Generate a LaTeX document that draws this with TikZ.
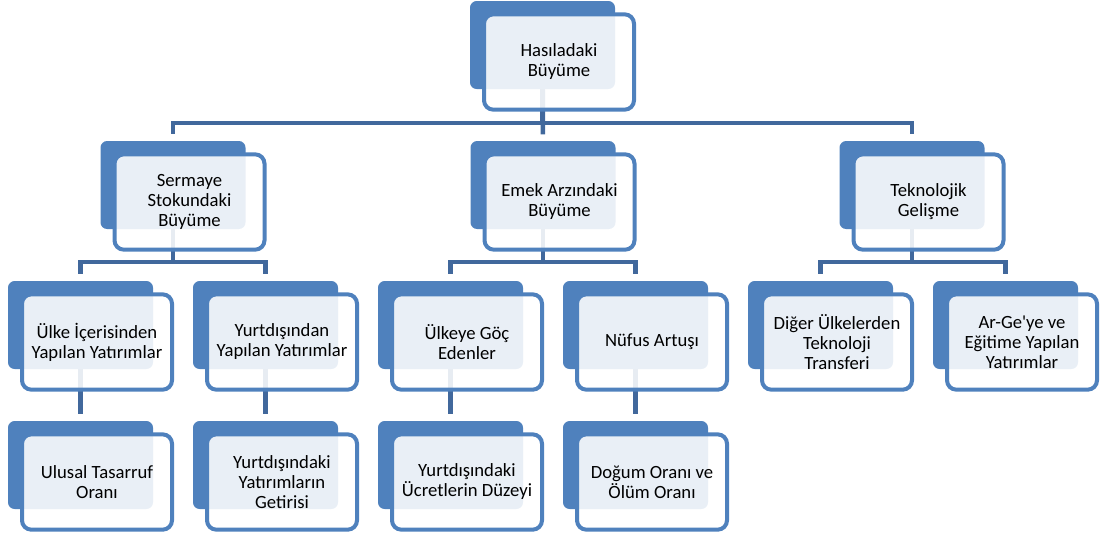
\documentclass[tikz,border=0pt]{standalone}
\usepackage{fontspec}
\setmainfont{Carlito}
\usepackage{tikz}
\usetikzlibrary{positioning, backgrounds}
\definecolor{boxblue}{HTML}{4F81BD}
\definecolor{linkblue}{HTML}{41689C}

\tikzset{
  backbox/.style={fill=boxblue, rounded corners=5pt, minimum width=108.75pt,
    minimum height=66pt, inner sep=0pt, outer sep=0pt},
  frontbox/.style={draw=boxblue, line width=3pt, fill=white, fill opacity=0.88,
    text opacity=1, rounded corners=7pt, minimum width=112.5pt, minimum height=71.5pt,
    inner sep=0pt, align=center, font=\fontsize{14pt}{15pt}\selectfont},
  link/.style={draw=linkblue, line width=3.4pt},
}

\begin{document}
\begin{tikzpicture}[x=0.75pt, y=-0.75pt, node distance=30pt] % 1px = 0.75pt, y downwards
    \useasboundingbox (0,0) rectangle (1100,537);

    % 1. Back plates (filled), placed row by row
    \node[backbox] (has-b) at (542.5,45) {};
    \node[backbox] (sermaye-b) at (173,185) {};
    \node[backbox] (emek-b) at (543,185) {};
    \node[backbox] (tekno-b) at (912,185) {};
    \node[backbox] (ulke-b) at (80.5,325) {};
    \node[backbox, right=of ulke-b] (yurt-b) {};
    \node[backbox, right=of yurt-b] (goc-b) {};
    \node[backbox, right=of goc-b] (nufus-b) {};
    \node[backbox, right=of nufus-b] (transfer-b) {};
    \node[backbox, right=of transfer-b] (arge-b) {};
    \node[backbox, below=39pt of ulke-b] (tasarruf-b) {};
    \node[backbox, below=39pt of yurt-b] (getiri-b) {};
    \node[backbox, below=39pt of goc-b] (ucret-b) {};
    \node[backbox, below=39pt of nufus-b] (dogum-b) {};

    % 2. Front boxes with the texts, shifted down-right over the plates
    \node[frontbox] (has) at ([shift={(16.5,17)}]has-b) {Hasıladaki\\Büyüme};
    \node[frontbox] (sermaye) at ([shift={(16.5,17)}]sermaye-b) {Sermaye\\Stokundaki\\Büyüme};
    \node[frontbox] (emek) at ([shift={(16.5,17)}]emek-b) {Emek Arzındaki\\Büyüme};
    \node[frontbox] (tekno) at ([shift={(16.5,17)}]tekno-b) {Teknolojik\\Gelişme};
    \node[frontbox] (ulke) at ([shift={(16.5,17)}]ulke-b) {Ülke İçerisinden\\Yapılan Yatırımlar};
    \node[frontbox] (yurt) at ([shift={(16.5,17)}]yurt-b) {Yurtdışından\\Yapılan Yatırımlar};
    \node[frontbox] (goc) at ([shift={(16.5,17)}]goc-b) {Ülkeye Göç\\Edenler};
    \node[frontbox] (nufus) at ([shift={(16.5,17)}]nufus-b) {Nüfus Artuşı};
    \node[frontbox] (transfer) at ([shift={(16.5,17)}]transfer-b) {Diğer Ülkelerden\\Teknoloji\\Transferi};
    \node[frontbox] (arge) at ([shift={(16.5,17)}]arge-b) {Ar-Ge\textquotesingle ye ve\\Eğitime Yapılan\\Yatırımlar};
    \node[frontbox] (tasarruf) at ([shift={(16.5,17)}]tasarruf-b) {Ulusal Tasarruf\\Oranı};
    \node[frontbox] (getiri) at ([shift={(16.5,17)}]getiri-b) {Yurtdışındaki\\Yatırımların\\Getirisi};
    \node[frontbox] (ucret) at ([shift={(16.5,17)}]ucret-b) {Yurtdışındaki\\Ücretlerin Düzeyi};
    \node[frontbox] (dogum) at ([shift={(16.5,17)}]dogum-b) {Doğum Oranı ve\\Ölüm Oranı};

    % 3. Connectors, behind everything
    \begin{scope}[on background layer, shorten >=5pt]
        \draw[link] (has-b.center) -- ++(0,78) -| (sermaye-b.north);
        \draw[link] (has-b.center) -- ++(0,78) -| (tekno-b.north);
        \draw[link] (has-b.center) -- (emek-b.north);
        \draw[link] (sermaye-b.center) -- ++(0,77) -| (ulke-b.north);
        \draw[link] (sermaye-b.center) -- ++(0,77) -| (yurt-b.north);
        \draw[link] (emek-b.center) -- ++(0,77) -| (goc-b.north);
        \draw[link] (emek-b.center) -- ++(0,77) -| (nufus-b.north);
        \draw[link] (tekno-b.center) -- ++(0,77) -| (transfer-b.north);
        \draw[link] (tekno-b.center) -- ++(0,77) -| (arge-b.north);
        \draw[link] (ulke-b.center) -- (tasarruf-b.north);
        \draw[link] (yurt-b.center) -- (getiri-b.north);
        \draw[link] (goc-b.center) -- (ucret-b.north);
        \draw[link] (nufus-b.center) -- (dogum-b.north);
    \end{scope}
\end{tikzpicture}
\end{document}
